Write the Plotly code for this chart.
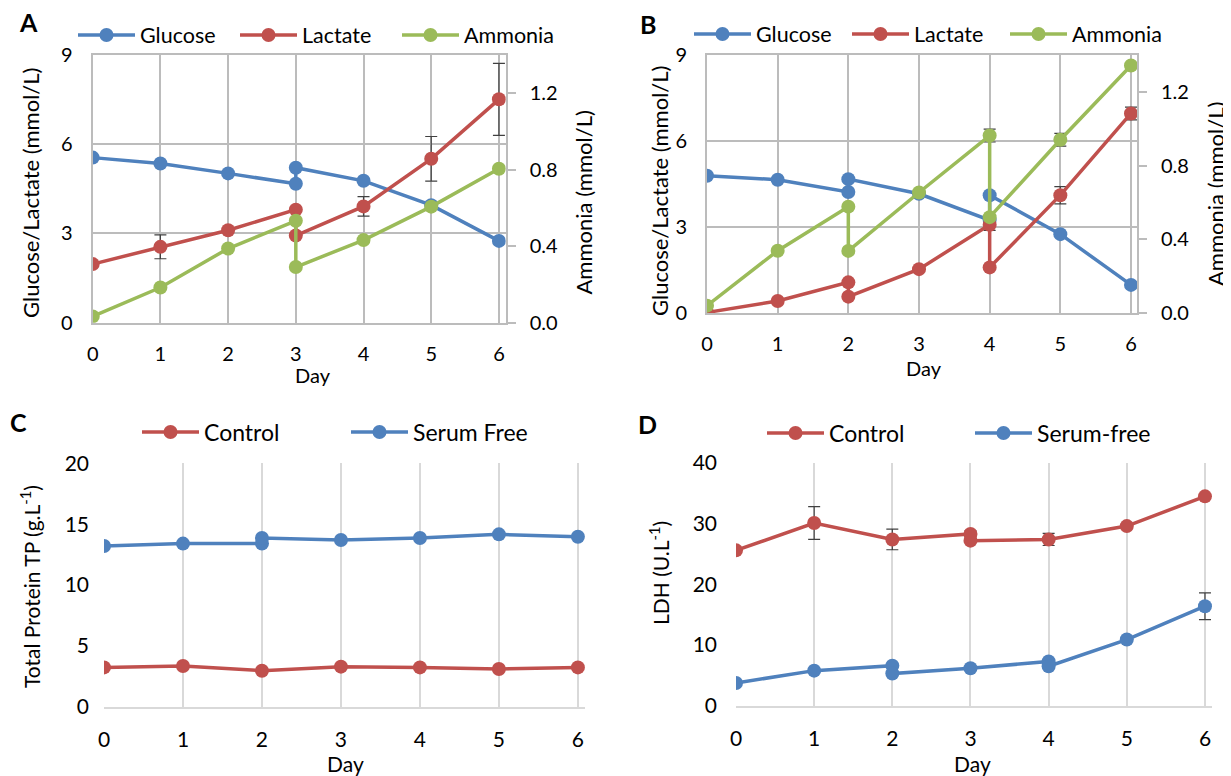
import plotly.graph_objects as go

# ---------------- data ----------------
# Panel A
days_A = [0, 1, 2, 3, 3, 4, 5, 6]
glucose_A = [5.55, 5.35, 5.02, 4.67, 5.21, 4.77, 3.95, 2.75]
lactate_A = [1.97, 2.55, 3.11, 3.80, 2.93, 3.91, 5.51, 7.51]
lactate_A_err = [None, 0.40, None, None, None, 0.33, 0.75, 1.21]
ammonia_A = [0.033, 0.184, 0.388, 0.533, 0.291, 0.432, 0.607, 0.805]

# Panel B
days_B = [0, 1, 2, 2, 3, 4, 4, 5, 6]
glucose_B = [4.79, 4.65, 4.22, 4.67, 4.16, 3.24, 4.11, 2.75, 0.98]
lactate_B = [0.02, 0.42, 1.07, 0.57, 1.53, 3.08, 1.59, 4.11, 6.96]
lactate_B_err = [None, None, None, None, None, 0.20, None, 0.30, 0.22]
ammonia_B = [0.04, 0.338, 0.577, 0.337, 0.654, 0.963, 0.52, 0.94, 1.343]
ammonia_B_err = [None, None, None, None, None, 0.035, None, 0.035, None]

# Panel C
days_C_control = [0, 1, 2, 3, 4, 5, 6]
control_C = [3.23, 3.34, 2.96, 3.29, 3.23, 3.10, 3.23]
days_C_serum = [0, 1, 2, 2, 3, 4, 5, 6]
serum_free_C = [13.2, 13.4, 13.4, 13.86, 13.7, 13.86, 14.16, 13.97]

# Panel D
days_D_control = [0, 1, 2, 3, 3, 4, 5, 6]
control_D = [25.6, 30.1, 27.4, 28.3, 27.2, 27.4, 29.6, 34.5]
control_D_err = [None, 2.7, 1.7, 0.5, None, 1.0, None, None]
days_D_serum = [0, 1, 2, 2, 3, 4, 4, 5, 6]
serum_free_D = [3.74, 5.78, 6.6, 5.3, 6.16, 7.3, 6.5, 10.9, 16.4]
serum_free_D_err = [None, None, None, None, None, None, None, None, 2.2]

day_ticks = [0, 1, 2, 3, 4, 5, 6]

# ---------------- style ----------------
PAGE_W, PAGE_H = 1231, 776
OFF = 8  # default page body margin
W, H = PAGE_W - OFF, PAGE_H - OFF
BLUE = "#4F81BD"
RED = "#C0504D"
GREEN = "#9BBB59"
GRID_AB = "#BCBCBC"
GRID_CD = "#D9D9D9"
ERR = "#404040"
FONT = "Lato"


def fx(p):
    return (p - OFF) / W


def fy(p):
    return 1 - (p - OFF) / H


def series(x, y, name, color, xa, ya, legend, err=None, lw=3.5, ms=14):
    kw = {}
    if err is not None:
        kw["error_y"] = dict(type="data", array=err, color=ERR, thickness=1.2, width=6, visible=True)
    return go.Scatter(
        x=x, y=y, name=name, mode="lines+markers",
        line=dict(color=color, width=lw),
        marker=dict(color=color, size=ms),
        xaxis=xa, yaxis=ya, legend=legend, **kw,
    )


fig = go.Figure()

# Panel A
fig.add_trace(series(days_A, glucose_A, "Glucose", BLUE, "x", "y", "legend"))
fig.add_trace(series(days_A, lactate_A, "Lactate", RED, "x", "y", "legend", lactate_A_err))
fig.add_trace(series(days_A, ammonia_A, "Ammonia", GREEN, "x", "y2", "legend"))

# Panel B
fig.add_trace(series(days_B, glucose_B, "Glucose", BLUE, "x2", "y3", "legend2"))
fig.add_trace(series(days_B, lactate_B, "Lactate", RED, "x2", "y3", "legend2", lactate_B_err))
fig.add_trace(series(days_B, ammonia_B, "Ammonia", GREEN, "x2", "y4", "legend2", ammonia_B_err))

# Panel C
fig.add_trace(series(days_C_control, control_C, "Control", RED, "x3", "y5", "legend3"))
fig.add_trace(series(days_C_serum, serum_free_C, "Serum Free", BLUE, "x3", "y5", "legend3"))

# Panel D
fig.add_trace(series(days_D_control, control_D, "Control", RED, "x4", "y6", "legend4", control_D_err))
fig.add_trace(series(days_D_serum, serum_free_D, "Serum-free", BLUE, "x4", "y6", "legend4", serum_free_D_err))

tick_ab = dict(family=FONT, size=20, color="black")
tick_cd = dict(family=FONT, size=21, color="black")

common_x_ab = dict(
    tickmode="array", tickvals=day_ticks, showgrid=True, gridcolor=GRID_AB, gridwidth=2,
    showline=True, linecolor=GRID_AB, linewidth=2, mirror=True, zeroline=False,
    ticks="", tickfont=tick_ab, ticklabelstandoff=12, automargin=False,
)
common_yl_ab = dict(
    range=[0, 9], tickmode="array", tickvals=[0, 3, 6, 9], showgrid=True, gridcolor=GRID_AB,
    gridwidth=2, showline=True, linecolor=GRID_AB, linewidth=2, zeroline=False, ticks="",
    tickfont=tick_ab, ticklabelstandoff=14, automargin=False,
)
common_yr_ab = dict(
    range=[0, 1.4], tickmode="array", tickvals=[0, 0.4, 0.8, 1.2], tickformat=".1f",
    showgrid=False, showline=True, linecolor=GRID_AB, linewidth=2, zeroline=False,
    ticks="outside", ticklen=8, tickwidth=2, tickcolor=GRID_AB, side="right",
    tickfont=tick_ab, ticklabelstandoff=10, automargin=False,
)
common_x_cd = dict(
    tickmode="array", tickvals=day_ticks, showgrid=True, gridcolor=GRID_CD, gridwidth=1.5,
    showline=True, linecolor=GRID_CD, linewidth=1.5, zeroline=False, ticks="",
    tickfont=tick_cd, ticklabelstandoff=13, automargin=False,
)
common_y_cd = dict(
    showgrid=False, showline=False, zeroline=False, ticks="", tickfont=tick_cd,
    automargin=False,
)

fig.update_layout(
    template="none",
    width=W, height=H, autosize=False,
    margin=dict(l=0, r=0, t=0, b=0, pad=0, autoexpand=False),
    paper_bgcolor="white", plot_bgcolor="white",
    font=dict(family=FONT, color="black"),
    # A
    xaxis=dict(domain=[fx(92.7), fx(505.7)], range=[0, 6.1], anchor="y", **common_x_ab),
    yaxis=dict(domain=[fy(322.7), fy(55)], anchor="x", **common_yl_ab),
    yaxis2=dict(overlaying="y", anchor="x", **common_yr_ab),
    # B
    xaxis2=dict(domain=[fx(707), fx(1137)], range=[0, 6.085], anchor="y3", **common_x_ab),
    yaxis3=dict(domain=[fy(313), fy(55)], anchor="x2", **common_yl_ab),
    yaxis4=dict(overlaying="y3", anchor="x2", **common_yr_ab),
    # C
    xaxis3=dict(domain=[fx(104), fx(585)], range=[0, 6.09], anchor="y5", **common_x_cd),
    yaxis5=dict(domain=[fy(706.7), fy(463.3)], range=[0, 20], dtick=5, anchor="x3",
                ticklabelstandoff=14, **common_y_cd),
    # D
    xaxis4=dict(domain=[fx(736), fx(1212)], range=[0, 6.09], anchor="y6", **common_x_cd),
    yaxis6=dict(domain=[fy(705.7), fy(463)], range=[0, 40], dtick=10, anchor="x4",
                ticklabelstandoff=18, **common_y_cd),
    showlegend=True,
)

leg_common = dict(orientation="h", xanchor="left", yanchor="middle", bgcolor="rgba(0,0,0,0)",
                  itemwidth=57, entrywidthmode="pixels", itemclick=False, itemdoubleclick=False,
                  tracegroupgap=0, borderwidth=0)
fig.update_layout(
    legend=dict(x=fx(73), y=fy(35), font=dict(family=FONT, size=21.5), entrywidth=90, **leg_common),
    legend2=dict(x=fx(689), y=fy(34), font=dict(family=FONT, size=21.5), entrywidth=86, **leg_common),
    legend3=dict(x=fx(137), y=fy(432), font=dict(family=FONT, size=23), entrywidth=137, **leg_common),
    legend4=dict(x=fx(762), y=fy(433), font=dict(family=FONT, size=23), entrywidth=136, **leg_common),
)

ann = []


def label(text, x, y, size, angle=0, bold=False):
    ann.append(dict(
        text=f"<b>{text}</b>" if bold else text, x=fx(x), y=fy(y), xref="paper", yref="paper",
        xanchor="center", yanchor="middle", showarrow=False, textangle=angle,
        font=dict(family=FONT, size=size, color="black"),
    ))


label("A", 28, 22, 25, bold=True)
label("B", 648, 24, 25, bold=True)
label("C", 18, 422, 25, bold=True)
label("D", 647, 424, 25, bold=True)

label("Glucose/Lactate (mmol/L)", 31, 193, 22, -90)
label("Ammonia (mmol/L)", 582.5, 203, 22, -90)
label("Day", 313, 375, 20)

label("Glucose/Lactate (mmol/L)", 659, 191, 22, -90)
label("Ammonia (mmol/L)", 1215, 194, 22, -90)
label("Day", 924, 368, 20)

label("Total Protein TP (g.L<sup>-1</sup>)", 30, 587, 21, -90)
label("Day", 345, 763, 21)

label("LDH (U.L<sup>-1</sup>)", 659, 573, 21, -90)
label("Day", 972, 763, 21)

fig.update_layout(annotations=ann)

fig.write_html("out.html", config={"displayModeBar": False})
